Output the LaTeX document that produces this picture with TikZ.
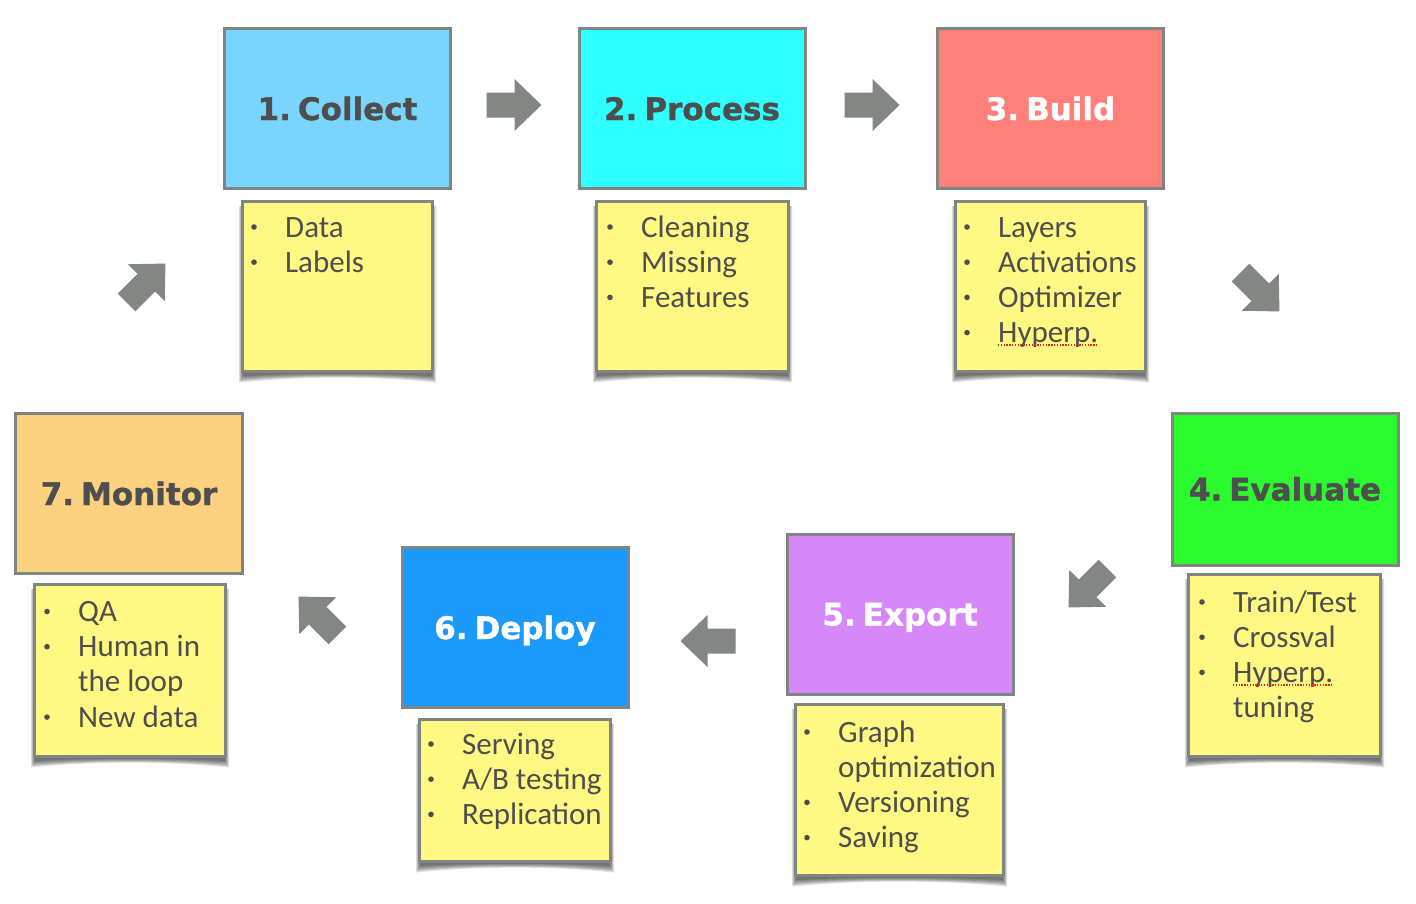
\documentclass[tikz,border=0pt]{standalone}
\usepackage{fontspec}
\setmainfont{Carlito}
\newfontfamily\titlefont{DejaVu Sans Bold}[FakeBold=1.2]
\definecolor{c1}{HTML}{79D5FD}
\definecolor{c2}{HTML}{2EFFFF}
\definecolor{c3}{HTML}{FF7F7B}
\definecolor{c4}{HTML}{2BFA2E}
\definecolor{c5}{HTML}{D688F9}
\definecolor{c6}{HTML}{1B9AFB}
\definecolor{c7}{HTML}{FCD17F}
\definecolor{noteyellow}{HTML}{FFF883}
\definecolor{bordergray}{HTML}{7F8581}
\definecolor{arrowgray}{HTML}{828784}
\definecolor{textgray}{HTML}{4E4E4E}
\definecolor{spellred}{HTML}{E8281E}
\newcommand\tsp{\kern7pt\relax}
\tikzset{
  stage/.style={draw=bordergray, line width=3pt, inner sep=0pt,
    minimum width=226pt, minimum height=160pt, text height=23pt, text depth=0pt,
    font=\titlefont\fontsize{31}{36}\selectfont, text=textgray},
  note/.style={draw=bordergray, line width=3pt, fill=noteyellow, inner sep=0pt},
  item/.style={anchor=base west, inner sep=0pt, font=\fontsize{31}{35}\selectfont, text=textgray},
  spell/.style={draw=spellred, line width=1.4pt, dash pattern=on 1.4pt off 1.4pt},
  blockarrow/.pic={\fill[arrowgray] (-27.5,-12.5) -- (0.5,-12.5) -- (0.5,-26) -- (27.5,0)
      -- (0.5,26) -- (0.5,12.5) -- (-27.5,12.5) -- cycle;}
}
\newcommand\stickynote[5]{%
  \foreach \k in {0,...,5}{%
    \fill[black, opacity=0.12] (#2+2-\k*0.8, #3+6) -- (#2+2-\k*0.8, #5+3+\k*1.3)
      .. controls ({#2+(#4-#2)*0.3}, #5+\k*0.6) and ({#4-(#4-#2)*0.3}, #5+\k*0.6)
      .. (#4-2+\k*0.8, #5+3+\k*1.3) -- (#4-2+\k*0.8, #3+6) -- cycle;
  }
  \node[note, minimum width={(#4-#2-3)*1pt}, minimum height={(#5-#3-3)*1pt}] (#1)
    at ({(#2+#4)/2},{(#3+#5)/2}) {};
}
\newcommand\bul[1]{\fill[textgray] ([xshift=-31pt,yshift=10pt]#1.base west) circle (2.8);}
\begin{document}
\begin{tikzpicture}[x=1pt,y=-1pt]
\useasboundingbox (0,0) rectangle (1416,903);
\fill[white] (0,0) rectangle (1416,903);

% stage boxes
\node[stage, fill=c1] (s1) at (337.5,108.5) {1.\tsp Collect};
\node[stage, fill=c2] (s2) at (692,108.5) {2.\tsp Process};
\node[stage, fill=c3, text=white] (s3) at (1050.5,108.5) {3.\tsp Build};
\node[stage, fill=c4, minimum height=152pt] (s4) at (1285,489) {4.\tsp Evaluate};
\node[stage, fill=c5, text=white] (s5) at (900,614) {5.\tsp Export};
\node[stage, fill=c6, text=white] (s6) at (515,627.5) {6.\tsp Deploy};
\node[stage, fill=c7, minimum width=227pt] (s7) at (129,493.5) {7.\tsp Monitor};

% sticky notes
\stickynote{n1}{241}{200}{434}{373}
\stickynote{n2}{595}{200}{790}{373}
\stickynote{n3}{954}{200}{1147}{373}
\stickynote{n4}{1187}{573}{1382}{758}
\stickynote{n5}{794}{703}{1005}{877}
\stickynote{n6}{418}{718}{612}{863}
\stickynote{n7}{33}{583}{227}{758}

% note 1
\node[item] (n1a) at (285,237) {Data}; \bul{n1a}
\node[item] (n1b) at (285,272.2) {Labels}; \bul{n1b}
% note 2
\node[item] (n2a) at (641,237) {Cleaning}; \bul{n2a}
\node[item] (n2b) at (641,272.2) {Missing}; \bul{n2b}
\node[item] (n2c) at (641,307.4) {Features}; \bul{n2c}
% note 3
\node[item] (n3a) at (998,237) {Layers}; \bul{n3a}
\node[item] (n3b) at (998,272.2) {Activations}; \bul{n3b}
\node[item] (n3c) at (998,307.4) {Optimizer}; \bul{n3c}
\node[item] (n3d) at (998,342.6) {Hyperp.}; \bul{n3d}
\draw[spell] ([yshift=-2.5pt]n3d.base west) -- ([yshift=-2.5pt]n3d.base east);
% note 4
\node[item] (n4a) at (1233,612) {Train/Test}; \bul{n4a}
\node[item] (n4b) at (1233,647.2) {Crossval}; \bul{n4b}
\node[item] (n4c) at (1233,682.4) {Hyperp.}; \bul{n4c}
\draw[spell] ([yshift=-2.5pt]n4c.base west) -- ([yshift=-2.5pt]n4c.base east);
\node[item] (n4d) at (1233,717.6) {tuning};
% note 5
\node[item] (n5a) at (838,742) {Graph}; \bul{n5a}
\node[item] (n5b) at (838,777.2) {optimization};
\node[item] (n5c) at (838,812.4) {Versioning}; \bul{n5c}
\node[item] (n5d) at (838,847.6) {Saving}; \bul{n5d}
% note 6
\node[item] (n6a) at (462,754) {Serving}; \bul{n6a}
\node[item] (n6b) at (462,789.2) {A/B testing}; \bul{n6b}
\node[item] (n6c) at (462,824.4) {Replication}; \bul{n6c}
% note 7
\node[item] (n7a) at (78,621.5) {QA}; \bul{n7a}
\node[item] (n7b) at (78,656.7) {Human in}; \bul{n7b}
\node[item] (n7c) at (78,691.9) {the loop};
\node[item] (n7d) at (78,727.1) {New data}; \bul{n7d}

% block arrows
\pic (a12) at (514,105) {blockarrow};
\pic (a23) at (872,105) {blockarrow};
\pic[rotate=-45] (a34) at (1260,292) {blockarrow};
\pic[rotate=-135] (a45) at (1088,588) {blockarrow};
\pic[rotate=180] (a56) at (708,641) {blockarrow};
\pic[rotate=135] (a67) at (318,616) {blockarrow};
\pic[rotate=45] (a71) at (146,283) {blockarrow};
\end{tikzpicture}
\end{document}
